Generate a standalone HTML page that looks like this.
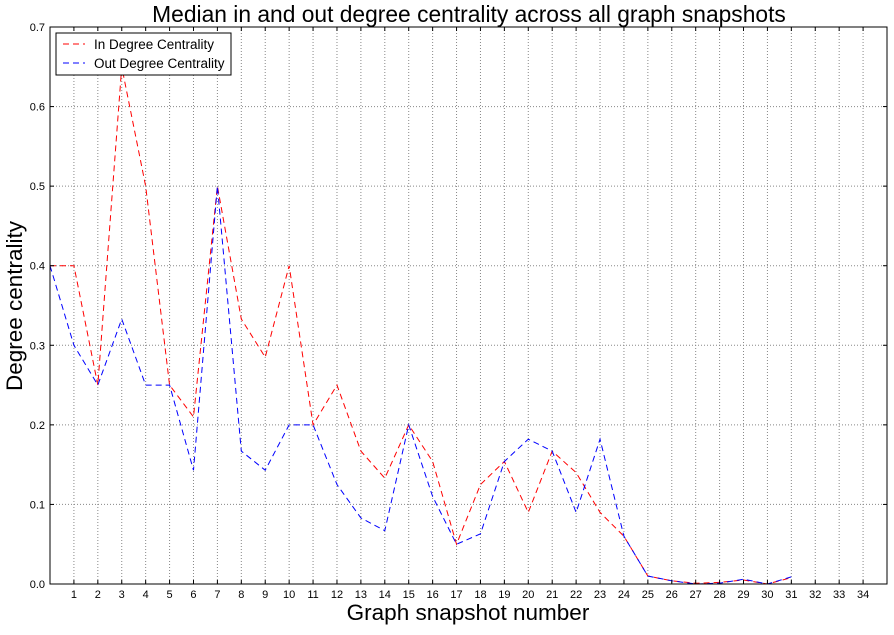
<!DOCTYPE html>
<html><head><meta charset="utf-8"><style>
body{margin:0;background:#fff;width:894px;height:630px;overflow:hidden}
svg text{font-family:"Liberation Sans",sans-serif}
</style></head><body>
<svg id="chart" width="894" height="630">
<text x="469" y="22" font-size="22.8" text-anchor="middle">Median in and out degree centrality across all graph snapshots</text>
<text x="468" y="620" font-size="22.5" text-anchor="middle">Graph snapshot number</text>
<text x="22" y="306" font-size="22.5" text-anchor="middle" transform="rotate(-90 22 306)">Degree centrality</text>
<g id="grid"></g><g id="series"></g><g id="axes"></g>
<g>
<rect x="56" y="33" width="175" height="42" fill="#fff" stroke="#000" stroke-width="1"/>
<line x1="63" y1="44" x2="85" y2="44" stroke="red" stroke-dasharray="6,4"/>
<text x="94" y="49" font-size="13.5">In Degree Centrality</text>
<line x1="63" y1="63" x2="85" y2="63" stroke="blue" stroke-dasharray="6,4"/>
<text x="94" y="68" font-size="13.5">Out Degree Centrality</text>
</g>
</svg>
<script>
const xTicks=[1,2,3,4,5,6,7,8,9,10,11,12,13,14,15,16,17,18,19,20,21,22,23,24,25,26,27,28,29,30,31,32,33,34];
const yTicks=[0,0.1,0.2,0.3,0.4,0.5,0.6,0.7];
const inDegree=[0.4,0.4,0.25,0.65,0.5,0.25,0.21,0.5,0.333,0.285,0.4,0.2,0.25,0.167,0.133,0.2,0.154,0.05,0.125,0.154,0.09,0.167,0.14,0.09,0.06,0.01,0.004,0.001,0.002,0.005,0.0,0.008];
const outDegree=[0.4,0.3,0.25,0.333,0.25,0.25,0.143,0.5,0.167,0.143,0.2,0.2,0.125,0.083,0.067,0.2,0.11,0.05,0.063,0.154,0.182,0.167,0.09,0.182,0.06,0.01,0.004,0.0,0.001,0.006,0.0,0.009];
const L=50,R=887,T=27,B=584,XMAX=35,YMAX=0.7;
const xs=v=>L+v*(R-L)/XMAX, ys=v=>B-v*(B-T)/YMAX;
const NS="http://www.w3.org/2000/svg";
function mk(tag,attrs,parent){const e=document.createElementNS(NS,tag);for(const k in attrs)e.setAttribute(k,attrs[k]);parent.appendChild(e);return e;}
const grid=document.getElementById('grid'),axes=document.getElementById('axes'),series=document.getElementById('series');
xTicks.forEach(t=>{
 const g=mk('line',{x1:xs(t),x2:xs(t),y1:T,y2:B,stroke:'#888','stroke-dasharray':'1,2'},grid);
 
 
 mk('line',{x1:xs(t),x2:xs(t),y1:B,y2:B-4,stroke:'#000'},axes);
 mk('line',{x1:xs(t),x2:xs(t),y1:T,y2:T+4,stroke:'#000'},axes);
 const tx=mk('text',{x:xs(t),y:B+14,'font-size':11,'text-anchor':'middle'},axes);tx.textContent=t;
 
 
});
yTicks.forEach(t=>{
 const g=mk('line',{x1:L,x2:R,y1:ys(t),y2:ys(t),stroke:'#888','stroke-dasharray':'1,2'},grid);
 
 
 mk('line',{x1:L,x2:L+4,y1:ys(t),y2:ys(t),stroke:'#000'},axes);
 mk('line',{x1:R,x2:R-4,y1:ys(t),y2:ys(t),stroke:'#000'},axes);
 const tx=mk('text',{x:L-5,y:ys(t)+4,'font-size':11,'text-anchor':'end'},axes);tx.textContent=t.toFixed(1);
 
 
});
const fr=mk('rect',{x:L,y:T,width:R-L,height:B-T,fill:'none',stroke:'#000'},axes);


function line(data,color,name){
 const p=mk('polyline',{points:data.map((v,i)=>xs(i)+','+ys(v)).join(' '),fill:'none',stroke:color,'stroke-dasharray':'6,4','stroke-width':1},series);
 
 
}
line(inDegree,'red','in-degree-line');
line(outDegree,'blue','out-degree-line');
</script>
</body></html>
